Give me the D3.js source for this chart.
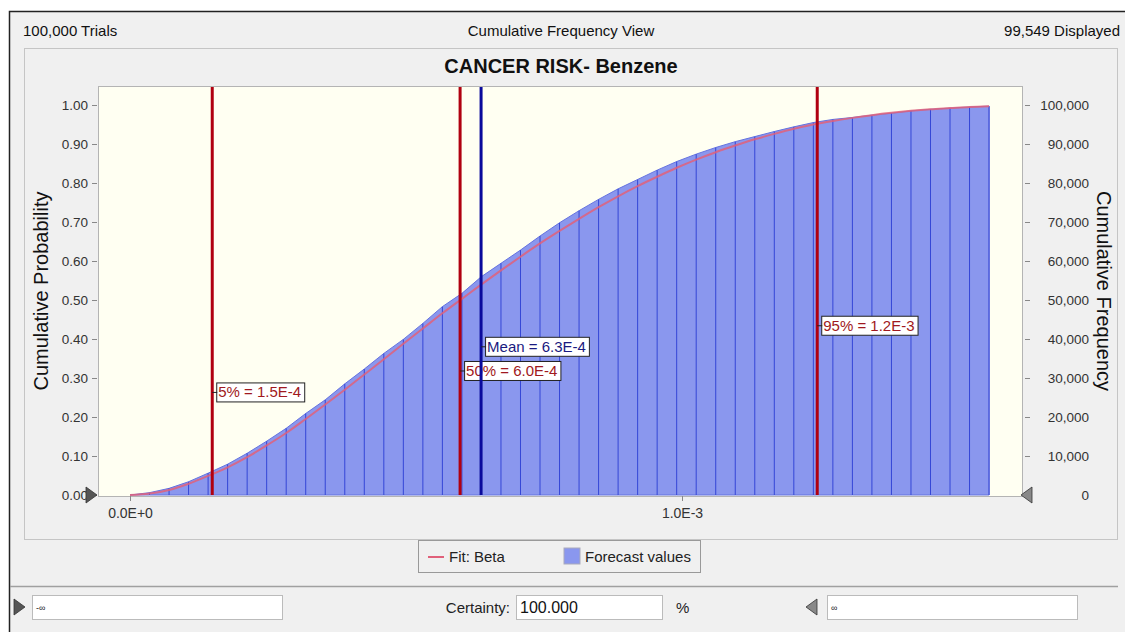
<!DOCTYPE html>
<html>
<head>
<meta charset="utf-8">
<script src="https://cdn.jsdelivr.net/npm/d3@7"></script>
<style>
  body { margin: 0; background: #fff; font-family: "Liberation Sans", Arial, sans-serif; }
  svg text { font-family: "Liberation Sans", Arial, sans-serif; }
</style>
</head>
<body>
<script>
(function() {

    const width = 1125;
    const height = 632;

    // cumulative fraction of trials at each bin edge (44 bins)
    const binCount = 44;
    const binWidth = 3.537e-5;
    const forecastCum = [0, 0.006, 0.017, 0.034, 0.056, 0.079, 0.107, 0.138, 0.171, 0.209,
        0.244, 0.285, 0.323, 0.363, 0.399, 0.440, 0.483, 0.517, 0.560, 0.594,
        0.628, 0.664, 0.698, 0.729, 0.758, 0.785, 0.809, 0.833, 0.855, 0.874,
        0.891, 0.906, 0.919, 0.932, 0.944, 0.955, 0.963, 0.968, 0.974, 0.979,
        0.985, 0.989, 0.992, 0.995, 0.997];
    // fitted beta cdf at the same edges
    const fitCum = [0, 0.004, 0.013, 0.029, 0.049, 0.071, 0.097, 0.127, 0.159, 0.195,
        0.232, 0.270, 0.309, 0.348, 0.388, 0.427, 0.466, 0.503, 0.540, 0.576,
        0.611, 0.645, 0.677, 0.708, 0.738, 0.766, 0.792, 0.816, 0.839, 0.860,
        0.879, 0.896, 0.912, 0.926, 0.939, 0.950, 0.959, 0.967, 0.974, 0.980,
        0.985, 0.989, 0.992, 0.995, 0.997];

    const markerNames = ["5%", "50%", "Mean", "95%"];
    const markerValues = [1.49e-4, 5.98e-4, 6.36e-4, 1.245e-3];
    const markerLabels = ["5% = 1.5E-4", "50% = 6.0E-4", "Mean = 6.3E-4", "95% = 1.2E-3"];
    const markerLabelProb = [0.263, 0.318, 0.38, 0.434];

    const probTicks = [0, 0.1, 0.2, 0.3, 0.4, 0.5, 0.6, 0.7, 0.8, 0.9, 1.0];
    const freqTicks = [0, 10000, 20000, 30000, 40000, 50000, 60000, 70000, 80000, 90000, 100000];
    const xTicks = [0, 1e-3];
    const xTickLabels = ["0.0E+0", "1.0E-3"];

    const plot = { left: 98, right: 1022, top: 86, bottom: 496 };

    const svg = d3.select("body").append("svg")
        .attr("width", width)
        .attr("height", height);

    // window background + frame
    svg.append("rect").attr("x", 9).attr("y", 11).attr("width", width - 9).attr("height", height - 11)
        .attr("fill", "#f0f0f0");
    svg.append("path").attr("d", "M9.5," + height + "V11.5H" + width)
        .attr("fill", "none").attr("stroke", "#222").attr("stroke-width", 1.5);

    // header
    const header = svg.append("g").style("font-size", "15px").attr("fill", "#111");
    header.append("text").attr("x", 23).attr("y", 36).text("100,000 Trials");
    header.append("text").attr("x", 561).attr("y", 36).attr("text-anchor", "middle").text("Cumulative Frequency View");
    header.append("text").attr("x", 1120).attr("y", 36).attr("text-anchor", "end").text("99,549 Displayed");

    // dotted chart panel
    svg.append("rect").attr("x", 24.5).attr("y", 48.5).attr("width", 1093).attr("height", 491)
        .attr("fill", "none").attr("stroke", "#9a9a9a").attr("stroke-dasharray", "1,1");

    svg.append("text").attr("x", 561).attr("y", 73).attr("text-anchor", "middle")
        .style("font-size", "20px").style("font-weight", "bold").attr("fill", "#111")
        .text("CANCER RISK- Benzene");

    // scales
    const x = d3.scaleLinear().domain([0, 1e-3]).range([130, 682]);
    const y = d3.scaleLinear().domain([0, 1]).range([495, 105]);
    const yFreq = d3.scaleLinear().domain([0, 100000]).range([495, 105]);

    svg.append("rect").attr("x", plot.left + 0.5).attr("y", plot.top + 0.5)
        .attr("width", plot.right - plot.left).attr("height", plot.bottom - plot.top)
        .attr("fill", "#fffff2").attr("stroke", "#b4b4b4");

    const edges = d3.range(binCount + 1).map(k => k * binWidth);
    const fData = edges.map((e, i) => ({ x: e, p: forecastCum[i] }));
    const fitData = edges.map((e, i) => ({ x: e, p: fitCum[i] }));

    // forecast area
    svg.append("path")
        .datum(fData)
        .attr("d", d3.area().x(d => x(d.x)).y0(y(0)).y1(d => y(d.p)))
        .attr("fill", "#8a97ee")
        .attr("stroke", "#6573e0")
        .attr("stroke-width", 1);

    // bin dividers
    svg.append("g").selectAll("line")
        .data(fData.slice(1))
        .enter()
        .append("line")
        .attr("x1", d => x(d.x)).attr("x2", d => x(d.x))
        .attr("y1", y(0)).attr("y2", d => y(d.p))
        .attr("stroke", "#3446d6").attr("stroke-width", 1);

    // fit line
    svg.append("path")
        .datum(fitData)
        .attr("d", d3.line().x(d => x(d.x)).y(d => y(d.p)).curve(d3.curveMonotoneX))
        .attr("fill", "none")
        .attr("stroke", "#e0607a")
        .attr("stroke-width", 2)
        .attr("opacity", 0.85);

    // markers
    const markers = svg.append("g").selectAll("g")
        .data(markerValues)
        .enter()
        .append("g");

    markers.append("line")
        .attr("x1", d => x(d)).attr("x2", d => x(d))
        .attr("y1", plot.top + 1).attr("y2", plot.bottom - 1)
        .attr("stroke", (d, i) => markerNames[i] == "Mean" ? "#0a0a9c" : "#b00010")
        .attr("stroke-width", 3);

    markers.each(function(d, i) {
        const g = d3.select(this);
        const ly = y(markerLabelProb[i]);
        const col = markerNames[i] == "Mean" ? "#1a1a80" : "#a01820";
        const t = g.append("text")
            .attr("x", x(d) + 6).attr("y", ly + 5)
            .style("font-size", "15px").attr("fill", col)
            .text(markerLabels[i]);
        const w = t.node().getComputedTextLength();
        g.insert("rect", "text")
            .attr("x", x(d) + 4.5).attr("y", ly - 9.5)
            .attr("width", w + 5).attr("height", 19)
            .attr("fill", "#fff").attr("stroke", "#222");
        g.append("line")
            .attr("x1", x(d)).attr("x2", x(d) + 5)
            .attr("y1", ly).attr("y2", ly)
            .attr("stroke", "#222");
    });

    // left axis
    const leftAxis = svg.append("g")
        .attr("transform", "translate(" + (plot.left - 1) + ",0)")
        .call(d3.axisLeft(y).tickValues(probTicks).tickFormat(d3.format(".2f")).tickSize(5).tickPadding(4));
    leftAxis.select(".domain").remove();
    leftAxis.selectAll("line").attr("stroke", "#888");
    leftAxis.selectAll("text").style("font-size", "13.5px").attr("fill", "#333");

    // right axis
    const rightAxis = svg.append("g")
        .attr("transform", "translate(" + (plot.right + 3) + ",0)")
        .call(d3.axisRight(yFreq).tickValues(freqTicks).tickFormat(d3.format(",")).tickSize(5).tickPadding(4));
    rightAxis.select(".domain").remove();
    rightAxis.selectAll("line").attr("stroke", "#888");
    rightAxis.selectAll("text").style("font-size", "13.5px").attr("fill", "#333")
        .attr("text-anchor", "end").attr("x", 64);

    // bottom axis
    const bottomAxis = svg.append("g")
        .attr("transform", "translate(0," + plot.bottom + ")")
        .call(d3.axisBottom(x).tickValues(xTicks).tickFormat((d, i) => xTickLabels[i]).tickSize(5).tickPadding(7));
    bottomAxis.select(".domain").remove();
    bottomAxis.selectAll("line").attr("stroke", "#888");
    bottomAxis.selectAll("text").style("font-size", "14px").attr("fill", "#333");

    // axis titles
    svg.append("text")
        .attr("transform", "translate(48," + ((plot.top + plot.bottom) / 2) + ") rotate(-90)")
        .attr("text-anchor", "middle").style("font-size", "20px").attr("fill", "#111")
        .text("Cumulative Probability");
    svg.append("text")
        .attr("transform", "translate(1097," + ((plot.top + plot.bottom) / 2) + ") rotate(90)")
        .attr("text-anchor", "middle").style("font-size", "20px").attr("fill", "#111")
        .text("Cumulative Frequency");

    // grabber triangles
    function tri(cx, cy, dir) {
        const pts = dir > 0
            ? [[cx - 5, cy - 8], [cx + 6, cy], [cx - 5, cy + 8]]
            : [[cx + 5, cy - 8], [cx - 6, cy], [cx + 5, cy + 8]];
        svg.append("path").attr("d", "M" + pts.join("L") + "Z")
            .attr("fill", dir > 0 ? "#555" : "#888").attr("stroke", "#333").attr("stroke-width", 0.8);
    }
    tri(91, y(0), 1);
    tri(1027, y(0), -1);

    // legend
    const legend = svg.append("g");
    legend.append("rect").attr("x", 418.5).attr("y", 540.5).attr("width", 282).attr("height", 32)
        .attr("fill", "#f0f0f0").attr("stroke", "#999");
    legend.append("line").attr("x1", 428).attr("x2", 444).attr("y1", 557).attr("y2", 557)
        .attr("stroke", "#e0607a").attr("stroke-width", 2);
    legend.append("text").attr("x", 449).attr("y", 562).style("font-size", "15px").attr("fill", "#222")
        .text("Fit: Beta");
    legend.append("rect").attr("x", 564).attr("y", 548).attr("width", 16).attr("height", 16)
        .attr("fill", "#8a97ee").attr("stroke", "#aab");
    legend.append("text").attr("x", 585).attr("y", 562).style("font-size", "15px").attr("fill", "#222")
        .text("Forecast values");

    // separator
    svg.append("line").attr("x1", 10).attr("x2", 1118).attr("y1", 586.5).attr("y2", 586.5)
        .attr("stroke", "#a0a0a0").attr("stroke-width", 1.5);

    // bottom controls
    const ctrl = svg.append("g").style("font-size", "15px");
    tri(19, 607, 1);
    ctrl.append("rect").attr("x", 32.5).attr("y", 595.5).attr("width", 250).attr("height", 24)
        .attr("fill", "#fff").attr("stroke", "#bbb");
    ctrl.append("text").attr("x", 36).attr("y", 611).style("font-size", "9px").attr("fill", "#222").text("-∞");

    ctrl.append("text").attr("x", 510).attr("y", 613).attr("text-anchor", "end").attr("fill", "#222").text("Certainty:");
    ctrl.append("rect").attr("x", 516.5).attr("y", 595.5).attr("width", 146).attr("height", 24)
        .attr("fill", "#fff").attr("stroke", "#bbb");
    ctrl.append("text").attr("x", 520).attr("y", 613).attr("fill", "#111").style("font-size", "16px").text("100.000");
    ctrl.append("text").attr("x", 676).attr("y", 613).attr("fill", "#222").text("%");

    tri(812, 607, -1);
    ctrl.append("rect").attr("x", 827.5).attr("y", 595.5).attr("width", 250).attr("height", 24)
        .attr("fill", "#fff").attr("stroke", "#bbb");
    ctrl.append("text").attr("x", 831).attr("y", 611).style("font-size", "9px").attr("fill", "#222").text("∞");

})();
</script>
</body>
</html>
